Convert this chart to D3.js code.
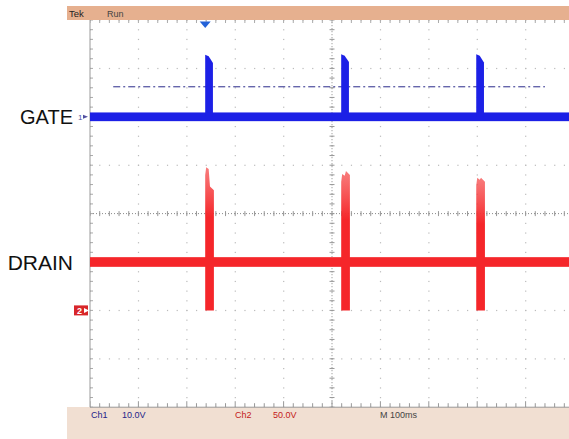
<!DOCTYPE html>
<meta charset="utf-8">
<script src="https://cdn.jsdelivr.net/npm/d3@7"></script>
<style>
  body { margin: 0; background: #fff; }
  svg { display: block; font-family: "Liberation Sans", Arial, sans-serif; }
</style>
<svg id="scope" width="569" height="439"></svg>
<script>

// Scope settings
var channels = ["Ch1", "Ch2"];
var voltsPerDiv = [10, 50];
var groundDiv = [2, -2];          // ground marker position, in divisions from centre
var traceLabels = ["GATE", "DRAIN"];
var msPerDiv = 100;
var scaleTexts = ["10.0V", "50.0V", "M 100ms"];

// Switching events (ms from the left edge of the screen)
var pulseStart = [238, 519, 798];
var gateWidth = [16, 16, 16];
var drainWidth = [18, 18, 18];

// Gate (Ch1) values, volts
var gateTopStart = [12.8, 12.9, 12.9];
var gateTopEnd = [11.1, 11.3, 11.2];
var gateBand = [-0.9, 0.9];
var gateRef = [6.2];
var gateRefSpan = [48, 940];

// Drain (Ch2) values, volts
var drainLevel = [50];
var drainBand = [-5, 5];
var drainPeakStart = [148, 141, 137];
var drainPeakEnd = [124, 140, 133];
var drainLow = [0, 0, 0];

var triggerTime = [238];

// ---------------------------------------------------------------

var svg = d3.select("#scope");
var W = +svg.attr("width"), H = +svg.attr("height");

var x = d3.scaleLinear().domain([0, 10 * msPerDiv]).range([90, 574]);
var yDiv = d3.scaleLinear().domain([-4, 4]).range([407.2, 20]);
function yCh(i, v) { return yDiv(groundDiv[i] + v / voltsPerDiv[i]); }

var blue = "#1c20e6", red = "#f5262a";

// top and bottom bars
svg.append("rect").attr("x", 67).attr("y", 6).attr("width", W - 67).attr("height", 14).attr("fill", "#e6b08f");
svg.append("rect").attr("x", 67).attr("y", 407).attr("width", W - 67).attr("height", H - 407).attr("fill", "#f1dfd2");
svg.append("text").attr("x", 69).attr("y", 17).attr("font-size", 9.5).attr("fill", "#222").text("Tek");
svg.append("text").attr("x", 107).attr("y", 17).attr("font-size", 9).attr("fill", "#444").text("Run");

// screen clip
svg.append("clipPath").attr("id", "screen")
  .append("rect").attr("x", 90).attr("y", 20).attr("width", W - 90).attr("height", 387.2);

var grid = svg.append("g").attr("clip-path", "url(#screen)");

// dotted graticule
var xMinor = d3.range(0, 10 * msPerDiv + 1, msPerDiv / 5);
var yMinor = d3.range(-4, 4.01, 0.2);
var xMajor = d3.range(0, 10 * msPerDiv + 1, msPerDiv);
var yMajor = d3.range(-4, 5, 1);

xMajor.forEach(function (t) {
  grid.selectAll(null).data(yMinor).enter().append("rect")
    .attr("x", x(t) - 0.5).attr("y", function (d) { return yDiv(d) - 0.5; })
    .attr("width", 1.2).attr("height", 1.2).attr("fill", "#bbbbbb");
});
yMajor.forEach(function (d) {
  grid.selectAll(null).data(xMinor).enter().append("rect")
    .attr("x", function (t) { return x(t) - 0.5; }).attr("y", yDiv(d) - 0.5)
    .attr("width", 1.2).attr("height", 1.2).attr("fill", "#bbbbbb");
});

// centre axes with ticks
grid.append("line").attr("x1", x(0)).attr("x2", x(1000)).attr("y1", yDiv(0)).attr("y2", yDiv(0))
  .attr("stroke", "#8a8a8a").attr("stroke-dasharray", "1,2");
grid.append("line").attr("y1", yDiv(-4)).attr("y2", yDiv(4)).attr("x1", x(500)).attr("x2", x(500))
  .attr("stroke", "#8a8a8a").attr("stroke-dasharray", "1,2");
grid.selectAll(null).data(xMinor).enter().append("line")
  .attr("x1", function (t) { return x(t); }).attr("x2", function (t) { return x(t); })
  .attr("y1", yDiv(0) - 2.5).attr("y2", yDiv(0) + 2.5).attr("stroke", "#999");
grid.selectAll(null).data(yMinor).enter().append("line")
  .attr("y1", function (d) { return yDiv(d); }).attr("y2", function (d) { return yDiv(d); })
  .attr("x1", x(500) - 2.5).attr("x2", x(500) + 2.5).attr("stroke", "#999");

// border ticks
grid.selectAll(null).data(xMinor).enter().append("line")
  .attr("x1", function (t) { return x(t); }).attr("x2", function (t) { return x(t); })
  .attr("y1", yDiv(4)).attr("y2", yDiv(4) + 3).attr("stroke", "#aaa");
grid.selectAll(null).data(xMinor).enter().append("line")
  .attr("x1", function (t) { return x(t); }).attr("x2", function (t) { return x(t); })
  .attr("y1", yDiv(-4)).attr("y2", function (t, i) { return yDiv(-4) - (i % 5 === 0 ? 6 : 4); })
  .attr("stroke", "#999");
grid.selectAll(null).data(yMinor).enter().append("line")
  .attr("y1", function (d) { return yDiv(d); }).attr("y2", function (d) { return yDiv(d); })
  .attr("x1", x(0)).attr("x2", x(0) + 3).attr("stroke", "#aaa");
svg.append("line").attr("x1", x(0)).attr("x2", x(0)).attr("y1", yDiv(4)).attr("y2", yDiv(-4)).attr("stroke", "#9a9a9a");
svg.append("line").attr("x1", x(0)).attr("x2", W).attr("y1", yDiv(-4)).attr("y2", yDiv(-4)).attr("stroke", "#9a9a9a");

var traces = svg.append("g").attr("clip-path", "url(#screen)");

// gate reference line (dash-dot)
traces.append("line")
  .attr("x1", x(gateRefSpan[0])).attr("x2", x(gateRefSpan[1]))
  .attr("y1", yCh(0, gateRef[0])).attr("y2", yCh(0, gateRef[0]))
  .attr("stroke", "#2a2a8a").attr("stroke-width", 1).attr("stroke-dasharray", "7,3,2,3");

// gate baseline band
traces.append("rect")
  .attr("x", x(0)).attr("width", x(1000) - x(0))
  .attr("y", yCh(0, gateBand[1])).attr("height", yCh(0, gateBand[0]) - yCh(0, gateBand[1]))
  .attr("fill", blue);

// gate pulses
traces.selectAll(".gp").data(pulseStart).enter().append("path").attr("class", "gp")
  .attr("fill", blue)
  .attr("d", function (t, i) {
    var x0 = x(t), x1 = x(t + gateWidth[i]);
    return "M" + x0 + "," + yCh(0, 0) +
      "L" + x0 + "," + yCh(0, gateTopStart[i]) +
      "L" + (x0 + (x1 - x0) * 0.45) + "," + yCh(0, gateTopStart[i] - 0.3) +
      "L" + x1 + "," + yCh(0, gateTopEnd[i]) +
      "L" + x1 + "," + yCh(0, 0) + "Z";
  });

// drain baseline band
traces.append("rect")
  .attr("x", x(0)).attr("width", x(1000) - x(0))
  .attr("y", yCh(1, drainLevel[0] + drainBand[1]))
  .attr("height", yCh(1, drainLevel[0] + drainBand[0]) - yCh(1, drainLevel[0] + drainBand[1]))
  .attr("fill", red);

// drain spikes: solid body, lighter top
var grad = svg.append("defs").append("linearGradient").attr("id", "spikeFade")
  .attr("x1", 0).attr("x2", 0).attr("y1", 1).attr("y2", 0);
grad.append("stop").attr("offset", "0%").attr("stop-color", red).attr("stop-opacity", 1);
grad.append("stop").attr("offset", "65%").attr("stop-color", red).attr("stop-opacity", 1);
grad.append("stop").attr("offset", "100%").attr("stop-color", "#f65050").attr("stop-opacity", 0.75);

traces.selectAll(".ds").data(pulseStart).enter().append("path").attr("class", "ds")
  .attr("fill", "url(#spikeFade)")
  .attr("d", function (t, i) {
    var x0 = x(t), x1 = x(t + drainWidth[i]);
    return "M" + x0 + "," + yCh(1, drainLow[i]) +
      "L" + x0 + "," + yCh(1, drainPeakStart[i] - 8) +
      "L" + (x0 + 1) + "," + yCh(1, drainPeakStart[i]) +
      "L" + (x0 + (x1 - x0) * 0.4) + "," + yCh(1, drainPeakStart[i] - 2) +
      "L" + (x0 + (x1 - x0) * 0.55) + "," + yCh(1, drainPeakEnd[i] + 4) +
      "L" + x1 + "," + yCh(1, drainPeakEnd[i]) +
      "L" + x1 + "," + yCh(1, drainLow[i]) + "Z";
  });

// trigger marker
svg.append("path")
  .attr("d", "M" + (x(triggerTime[0]) - 5.5) + "," + 21.5 + "L" + (x(triggerTime[0]) + 5.5) + "," + 21.5 +
    "L" + x(triggerTime[0]) + "," + 28 + "Z")
  .attr("fill", "#2462d8");

// channel ground markers
svg.append("text").attr("x", 78).attr("y", yCh(0, 0) + 3).attr("font-size", 8).attr("fill", "#5050a0").text("1");
svg.append("path").attr("d", "M83," + (yCh(0, 0) - 2) + "L88," + yCh(0, 0) + "L83," + (yCh(0, 0) + 2) + "Z")
  .attr("fill", "#5050a0");
svg.append("rect").attr("x", 74).attr("y", yCh(1, 0) - 5).attr("width", 14).attr("height", 10).attr("fill", "#d8262a");
svg.append("text").attr("x", 77).attr("y", yCh(1, 0) + 3.5).attr("font-size", 9).attr("font-weight", "bold")
  .attr("fill", "#fff").text("2");
svg.append("path").attr("d", "M84," + (yCh(1, 0) - 2.5) + "L89," + yCh(1, 0) + "L84," + (yCh(1, 0) + 2.5) + "Z")
  .attr("fill", "#fff");

// trace labels
svg.selectAll(".lbl").data(traceLabels).enter().append("text").attr("class", "lbl")
  .attr("x", 73).attr("text-anchor", "end")
  .attr("y", function (d, i) { return i === 0 ? yCh(0, 0) + 7 : yCh(1, drainLevel[0]) + 8; })
  .attr("font-size", function (d, i) { return i === 0 ? 20 : 21; })
  .attr("fill", "#111").text(function (d) { return d; });

// bottom readout
var readout = [
  { t: channels[0], x: 91, c: "#24248a" },
  { t: scaleTexts[0], x: 122, c: "#24248a" },
  { t: channels[1], x: 235, c: "#c42020" },
  { t: scaleTexts[1], x: 273, c: "#c42020" },
  { t: scaleTexts[2], x: 380, c: "#444" }
];
svg.selectAll(".ro").data(readout).enter().append("text").attr("class", "ro")
  .attr("x", function (d) { return d.x; }).attr("y", 418)
  .attr("font-size", 9).attr("fill", function (d) { return d.c; })
  .text(function (d) { return d.t; });

</script>
